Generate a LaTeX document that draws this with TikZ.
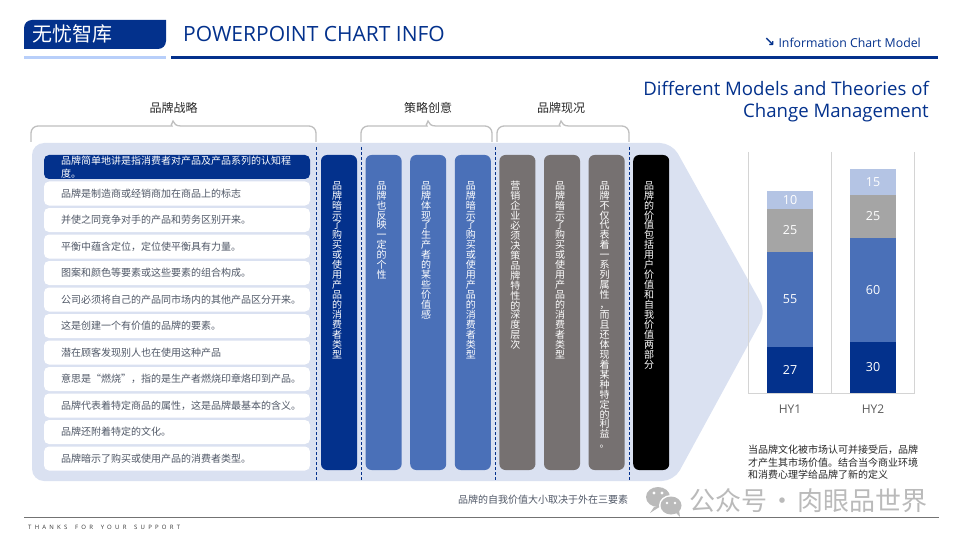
\documentclass[tikz,border=0pt]{standalone}
\usepackage{fontspec}
\setmainfont{Open Sans}
\newfontfamily\cjk{Noto Sans CJK SC}
\newfontfamily\arrowfont{DejaVu Sans}
\newfontfamily\spacedfont[LetterSpace=54,WordSpace=1.6]{Open Sans}
\XeTeXlinebreaklocale "zh"
\lineskiplimit=-20pt
\usepackage{xcolor}
\usetikzlibrary{positioning}
\definecolor{navy}{HTML}{03318C}
\definecolor{midblue}{HTML}{4A70B8}
\definecolor{slate}{HTML}{767171}
\definecolor{paleblue}{HTML}{DAE1F1}
\definecolor{stripblue}{HTML}{B8CFFA}
\definecolor{lightbar}{HTML}{B4C4E4}
\definecolor{greybar}{HTML}{A5A5A5}
\definecolor{rowtextgrey}{HTML}{505867}

\begin{document}
\begin{tikzpicture}[
    x=1pt, y=-1pt,
    listrow/.style={draw=none, fill=white, rectangle, rounded corners=5pt, minimum width=266pt, minimum height=24pt, inner sep=0pt, outer sep=0pt},
    rowtext/.style={inner sep=0pt, text=rowtextgrey, font=\cjk\fontsize{10}{12.5}\selectfont, align=left},
    colbox/.style={rectangle, rounded corners=6pt, minimum width=36pt, minimum height=315pt, inner sep=0pt, outer sep=0pt},
    coltext/.style={inner sep=0pt, text=white, text width=10.5pt, align=center, font=\cjk\fontsize{10}{9.95}\selectfont},
    sectitle/.style={inner sep=0pt, font=\cjk\fontsize{12}{14}\selectfont, text=black!85},
    divider/.style={navy, densely dashed, line width=0.7pt},
    bracket/.style={draw=black!25, line width=1.3pt, rounded corners=7pt},
    barseg/.style={rectangle, minimum width=46pt, inner sep=0pt, outer sep=0pt, text=white, font=\fontsize{12.5}{15}\selectfont},
    barname/.style={inner sep=0pt, text=black!65, font=\fontsize{12}{14}\selectfont},
    axisline/.style={draw=black!17, line width=0.8pt}
]
\useasboundingbox (0,0) rectangle (960,540);

% Header
\fill[navy] (24,49) [rounded corners=8pt] -- (24,20) [sharp corners] -- (166,20) [rounded corners=8pt] -- (166,49) [sharp corners] -- cycle;
\node[inner sep=0pt, anchor=west, text=white, font=\cjk\fontsize{20}{24}\selectfont] (brand) at (32,33.5) {无忧智库};
\node[inner sep=0pt, anchor=west, text=navy, font=\fontsize{21}{26}\selectfont] (headline) at (183,33.5) {POWERPOINT CHART INFO};
\fill[stripblue] (24,56) rectangle (166,59);
\fill[navy] (171,56) rectangle (938,59);
\node[inner sep=0pt, anchor=east, text=navy, font=\fontsize{12.3}{14}\selectfont] (subhead) at (921,42.5) {Information Chart Model};
\node[inner sep=0pt, left=3pt of subhead, text=navy, font=\arrowfont\bfseries\fontsize{13}{14}\selectfont] (subarrow) {↘};
\node[inner sep=0pt, anchor=north east, text=navy, align=right, font=\fontsize{18.6}{22.3}\selectfont] (bigtitle) at (929,81) {Different Models and Theories of\\Change Management};

% Panel
\fill[paleblue, rounded corners=12pt] (32,143) -- (672,143) -- (766,312) -- (674,481) -- (32,481) -- cycle;

% Braces
\draw[bracket] (31,142) -- (31,126) -- (165,126) [sharp corners] .. controls (170,126) and (172,124) .. (173,121) .. controls (174,124) and (176,126) .. (181,126) [rounded corners=7pt] -- (316,126) -- (316,142);
\draw[bracket] (361,142) -- (361,126) -- (420,126) [sharp corners] .. controls (425,126) and (427,124) .. (428,121) .. controls (429,124) and (431,126) .. (436,126) [rounded corners=7pt] -- (492,126) -- (492,142);
\draw[bracket] (497,142) -- (497,126) -- (553,126) [sharp corners] .. controls (558,126) and (560,124) .. (561,121) .. controls (562,124) and (564,126) .. (569,126) [rounded corners=7pt] -- (629,126) -- (629,142);
\node[sectitle] (stratlabel) at (173.5,108) {品牌战略};
\node[sectitle] (ideallabel) at (428,108) {策略创意};
\node[sectitle] (statelabel) at (561,108) {品牌现况};

% List rows
\node[listrow, anchor=north west, fill=navy] (row1) at (44,155) {};
\node[listrow, below=2.5pt of row1] (row2) {};
\node[listrow, below=2.5pt of row2] (row3) {};
\node[listrow, below=2.5pt of row3] (row4) {};
\node[listrow, below=2.5pt of row4] (row5) {};
\node[listrow, below=2.5pt of row5] (row6) {};
\node[listrow, below=2.5pt of row6] (row7) {};
\node[listrow, below=2.5pt of row7] (row8) {};
\node[listrow, below=2.5pt of row8] (row9) {};
\node[listrow, below=2.5pt of row9] (row10) {};
\node[listrow, below=2.5pt of row10] (row11) {};
\node[listrow, below=2.5pt of row11] (row12) {};
\node[rowtext, right=17pt of row1.west, text=white] (txt1) {品牌简单地讲是指消费者对产品及产品系列的认知程\\度。};
\node[rowtext, right=17pt of row2.west] (txt2) {品牌是制造商或经销商加在商品上的标志};
\node[rowtext, right=17pt of row3.west] (txt3) {并使之同竞争对手的产品和劳务区别开来。};
\node[rowtext, right=17pt of row4.west] (txt4) {平衡中蕴含定位，定位使平衡具有力量。};
\node[rowtext, right=17pt of row5.west] (txt5) {图案和颜色等要素或这些要素的组合构成。};
\node[rowtext, right=17pt of row6.west] (txt6) {公司必须将自己的产品同市场内的其他产品区分开来。};
\node[rowtext, right=17pt of row7.west] (txt7) {这是创建一个有价值的品牌的要素。};
\node[rowtext, right=17pt of row8.west] (txt8) {潜在顾客发现别人也在使用这种产品};
\node[rowtext, right=17pt of row9.west] (txt9) {意思是“燃烧”，指的是生产者燃烧印章烙印到产品。};
\node[rowtext, right=17pt of row10.west] (txt10) {品牌代表着特定商品的属性，这是品牌最基本的含义。};
\node[rowtext, right=17pt of row11.west] (txt11) {品牌还附着特定的文化。};
\node[rowtext, right=17pt of row12.west] (txt12) {品牌暗示了购买或使用产品的消费者类型。};

% Columns
\node[colbox, anchor=north west, fill=navy] (colA) at (321,155) {};
\node[colbox, right=8.6pt of colA, fill=midblue] (colB) {};
\node[colbox, right=8.6pt of colB, fill=midblue] (colC) {};
\node[colbox, right=8.6pt of colC, fill=midblue] (colD) {};
\node[colbox, right=8.6pt of colD, fill=slate] (colE) {};
\node[colbox, right=8.6pt of colE, fill=slate] (colF) {};
\node[colbox, right=8.6pt of colF, fill=slate] (colG) {};
\node[colbox, right=8.6pt of colG, fill=black] (colH) {};
\node[coltext, below=26pt of colA.north, xshift=-2pt] (txtA) {品牌暗示了购买或使用产品的消费者类型};
\node[coltext, below=26pt of colB.north, xshift=-2pt] (txtB) {品牌也反映一定的个性};
\node[coltext, below=26pt of colC.north, xshift=-2pt] (txtC) {品牌体现了生产者的某些价值感};
\node[coltext, below=26pt of colD.north, xshift=-2pt] (txtD) {品牌暗示了购买或使用产品的消费者类型};
\node[coltext, below=26pt of colE.north, xshift=-2pt] (txtE) {营销企业必须决策品牌特性的深度层次};
\node[coltext, below=26pt of colF.north, xshift=-2pt] (txtF) {品牌暗示了购买或使用产品的消费者类型};
\node[coltext, below=26pt of colG.north, xshift=-2pt] (txtG) {品牌不仅代表着一系列属性\hspace{0pt}，\hspace{0pt}而且还体现着某种特定的利益\hspace{0pt}。};
\node[coltext, below=26pt of colH.north, xshift=-2pt] (txtH) {品牌的价值包括用户价值和自我价值两部分};

% Dashed dividers
\draw[divider] (316.5,147) -- (316.5,481);
\draw[divider] (361.5,147) -- (361.5,481);
\draw[divider] (495.5,147) -- (495.5,481);
\draw[divider] (629.5,147) -- (629.5,481);

% Chart
\draw[axisline] (748,152) -- (748,393) -- (914,393) -- (914,152);
\draw[axisline] (831,152) -- (831,393);
\node[barseg, anchor=south, fill=navy, minimum height=46pt] (hyA1) at (790,393) {27};
\node[barseg, above=0pt of hyA1, fill=midblue, minimum height=95pt] (hyA2) {55};
\node[barseg, above=0pt of hyA2, fill=greybar, minimum height=43pt] (hyA3) {25};
\node[barseg, above=0pt of hyA3, fill=lightbar, minimum height=18pt] (hyA4) {10};
\node[barseg, anchor=south, fill=navy, minimum height=51pt] (hyB1) at (873,393) {30};
\node[barseg, above=0pt of hyB1, fill=midblue, minimum height=104pt] (hyB2) {60};
\node[barseg, above=0pt of hyB2, fill=greybar, minimum height=43pt] (hyB3) {25};
\node[barseg, above=0pt of hyB3, fill=lightbar, minimum height=26pt] (hyB4) {15};
\node[barname] (nameA) at (790,409.5) {HY1};
\node[barname] (nameB) at (873,409.5) {HY2};

% Notes
\node[inner sep=0pt, anchor=north west, text=black!85, align=left, font=\cjk\fontsize{10}{12.5}\selectfont] (note) at (748,445) {当品牌文化被市场认可并接受后，品牌\\才产生其市场价值。结合当今商业环境\\和消费心理学给品牌了新的定义};
\node[inner sep=0pt, anchor=west, text=rowtextgrey, font=\cjk\fontsize{10}{12}\selectfont] (factors) at (458,500) {品牌的自我价值大小取决于外在三要素};

% Watermark
\fill[black!27] (658,497) ellipse (12 and 10);
\fill[black!27] (654,507) -- (650,513) -- (661,506) -- cycle;
\fill[white] (671,505.5) ellipse (12 and 10.5);
\fill[black!27] (671,505.5) ellipse (10.5 and 9);
\fill[black!27] (676,513) -- (680,517) -- (679,510) -- cycle;
\fill[white] (654,493) circle (1.6);
\fill[white] (662,493) circle (1.6);
\fill[white] (667,503) circle (1.3);
\fill[white] (675,503) circle (1.3);
\node[inner sep=0pt, anchor=west, text=black!27, font=\cjk\fontsize{26}{30}\selectfont] (mark) at (689,501) {公众号\hspace{2pt}·\hspace{2pt}肉眼品世界};

% Footer
\draw[black!55, line width=0.8pt] (24,517.5) -- (939,517.5);
\node[inner sep=0pt, anchor=west, text=black!80, font=\spacedfont\fontsize{6}{8}\selectfont] (thanks) at (28,527) {THANKS FOR YOUR SUPPORT};

\end{tikzpicture}
\end{document}
